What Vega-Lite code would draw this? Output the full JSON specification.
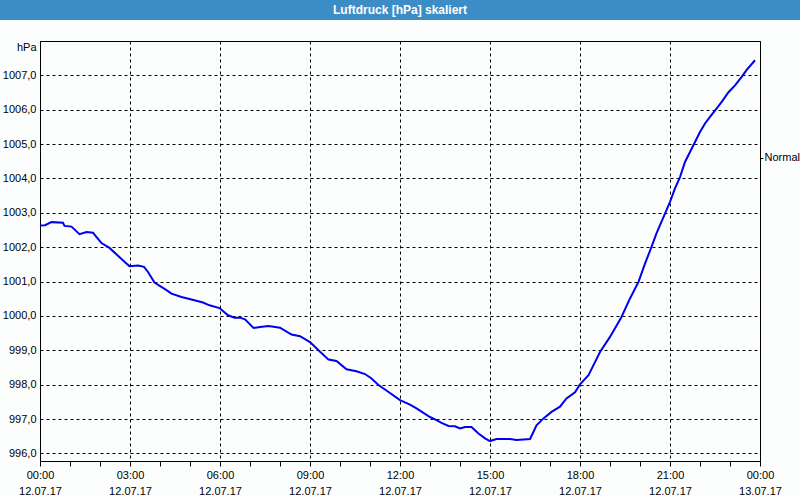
{
  "$schema": "https://vega.github.io/schema/vega-lite/v6.json",
  "background": "#fcfefd",
  "padding": 0,
  "spacing": 21,
  "bounds": "flush",
  "center": true,
  "config": {
    "font": "Liberation Sans",
    "view": {"stroke": null},
    "axis": {"labelFont": "Liberation Sans", "titleFont": "Liberation Sans", "labelFontSize": 11, "titleFontSize": 11, "labelColor": "#000", "titleColor": "#000", "titleFontWeight": "normal"}
  },
  "vconcat": [
    {
      "width": 800,
      "height": 20,
      "data": {"values": [{"title": "Luftdruck [hPa] skaliert"}]},
      "layer": [
        {"mark": {"type": "rect", "color": "#3c8dc5"}},
        {
          "mark": {"type": "text", "color": "#ffffff", "font": "Liberation Sans", "fontSize": 12, "fontWeight": "bold", "align": "center", "baseline": "middle"},
          "encoding": {"text": {"field": "title"}}
        }
      ]
    },
    {
      "width": 720,
      "height": 420,
      "resolve": {"axis": {"y": "independent", "x": "independent"}},
      "layer": [
        {
          "data": {"values": [
            {"t": "2017-07-12T00:00:00Z", "p": 1002.63},
            {"t": "2017-07-12T00:10:00Z", "p": 1002.64},
            {"t": "2017-07-12T00:23:00Z", "p": 1002.73},
            {"t": "2017-07-12T00:46:00Z", "p": 1002.71},
            {"t": "2017-07-12T00:49:00Z", "p": 1002.62},
            {"t": "2017-07-12T01:03:00Z", "p": 1002.60},
            {"t": "2017-07-12T01:19:00Z", "p": 1002.38},
            {"t": "2017-07-12T01:33:00Z", "p": 1002.44},
            {"t": "2017-07-12T01:46:00Z", "p": 1002.42},
            {"t": "2017-07-12T02:03:00Z", "p": 1002.12},
            {"t": "2017-07-12T02:19:00Z", "p": 1001.98},
            {"t": "2017-07-12T02:36:00Z", "p": 1001.75},
            {"t": "2017-07-12T02:51:00Z", "p": 1001.55},
            {"t": "2017-07-12T02:59:00Z", "p": 1001.45},
            {"t": "2017-07-12T03:16:00Z", "p": 1001.47},
            {"t": "2017-07-12T03:28:00Z", "p": 1001.43},
            {"t": "2017-07-12T03:36:00Z", "p": 1001.28},
            {"t": "2017-07-12T03:49:00Z", "p": 1000.97},
            {"t": "2017-07-12T04:13:00Z", "p": 1000.75},
            {"t": "2017-07-12T04:23:00Z", "p": 1000.65},
            {"t": "2017-07-12T04:43:00Z", "p": 1000.55},
            {"t": "2017-07-12T05:03:00Z", "p": 1000.48},
            {"t": "2017-07-12T05:26:00Z", "p": 1000.39},
            {"t": "2017-07-12T05:39:00Z", "p": 1000.31},
            {"t": "2017-07-12T05:59:00Z", "p": 1000.23},
            {"t": "2017-07-12T06:16:00Z", "p": 1000.02},
            {"t": "2017-07-12T06:29:00Z", "p": 999.95},
            {"t": "2017-07-12T06:40:00Z", "p": 999.95},
            {"t": "2017-07-12T06:50:00Z", "p": 999.90},
            {"t": "2017-07-12T07:07:00Z", "p": 999.65},
            {"t": "2017-07-12T07:20:00Z", "p": 999.68},
            {"t": "2017-07-12T07:37:00Z", "p": 999.71},
            {"t": "2017-07-12T08:00:00Z", "p": 999.66},
            {"t": "2017-07-12T08:23:00Z", "p": 999.46},
            {"t": "2017-07-12T08:40:00Z", "p": 999.41},
            {"t": "2017-07-12T09:00:00Z", "p": 999.24},
            {"t": "2017-07-12T09:17:00Z", "p": 999.00},
            {"t": "2017-07-12T09:37:00Z", "p": 998.73},
            {"t": "2017-07-12T09:53:00Z", "p": 998.69},
            {"t": "2017-07-12T10:13:00Z", "p": 998.45},
            {"t": "2017-07-12T10:33:00Z", "p": 998.39},
            {"t": "2017-07-12T10:50:00Z", "p": 998.31},
            {"t": "2017-07-12T11:03:00Z", "p": 998.18},
            {"t": "2017-07-12T11:17:00Z", "p": 997.99},
            {"t": "2017-07-12T11:40:00Z", "p": 997.76},
            {"t": "2017-07-12T12:00:00Z", "p": 997.55},
            {"t": "2017-07-12T12:20:00Z", "p": 997.42},
            {"t": "2017-07-12T12:33:00Z", "p": 997.31},
            {"t": "2017-07-12T13:00:00Z", "p": 997.06},
            {"t": "2017-07-12T13:13:00Z", "p": 996.97},
            {"t": "2017-07-12T13:23:00Z", "p": 996.89},
            {"t": "2017-07-12T13:37:00Z", "p": 996.80},
            {"t": "2017-07-12T13:50:00Z", "p": 996.79},
            {"t": "2017-07-12T14:00:00Z", "p": 996.73},
            {"t": "2017-07-12T14:10:00Z", "p": 996.77},
            {"t": "2017-07-12T14:23:00Z", "p": 996.77},
            {"t": "2017-07-12T14:37:00Z", "p": 996.58},
            {"t": "2017-07-12T14:50:00Z", "p": 996.44},
            {"t": "2017-07-12T15:00:00Z", "p": 996.36},
            {"t": "2017-07-12T15:13:00Z", "p": 996.42},
            {"t": "2017-07-12T15:40:00Z", "p": 996.42},
            {"t": "2017-07-12T15:53:00Z", "p": 996.39},
            {"t": "2017-07-12T16:20:00Z", "p": 996.42},
            {"t": "2017-07-12T16:27:00Z", "p": 996.63},
            {"t": "2017-07-12T16:33:00Z", "p": 996.82},
            {"t": "2017-07-12T16:47:00Z", "p": 997.02},
            {"t": "2017-07-12T17:03:00Z", "p": 997.21},
            {"t": "2017-07-12T17:20:00Z", "p": 997.36},
            {"t": "2017-07-12T17:33:00Z", "p": 997.60},
            {"t": "2017-07-12T17:50:00Z", "p": 997.78},
            {"t": "2017-07-12T18:00:00Z", "p": 998.01},
            {"t": "2017-07-12T18:17:00Z", "p": 998.28},
            {"t": "2017-07-12T18:27:00Z", "p": 998.57},
            {"t": "2017-07-12T18:40:00Z", "p": 998.95},
            {"t": "2017-07-12T19:00:00Z", "p": 999.39},
            {"t": "2017-07-12T19:23:00Z", "p": 999.97},
            {"t": "2017-07-12T19:40:00Z", "p": 1000.51},
            {"t": "2017-07-12T19:57:00Z", "p": 1000.99},
            {"t": "2017-07-12T20:10:00Z", "p": 1001.52},
            {"t": "2017-07-12T20:23:00Z", "p": 1002.01},
            {"t": "2017-07-12T20:33:00Z", "p": 1002.40},
            {"t": "2017-07-12T20:40:00Z", "p": 1002.64},
            {"t": "2017-07-12T20:50:00Z", "p": 1002.98},
            {"t": "2017-07-12T21:00:00Z", "p": 1003.32},
            {"t": "2017-07-12T21:10:00Z", "p": 1003.71},
            {"t": "2017-07-12T21:20:00Z", "p": 1004.04},
            {"t": "2017-07-12T21:30:00Z", "p": 1004.48},
            {"t": "2017-07-12T21:40:00Z", "p": 1004.77},
            {"t": "2017-07-12T21:50:00Z", "p": 1005.06},
            {"t": "2017-07-12T22:00:00Z", "p": 1005.35},
            {"t": "2017-07-12T22:10:00Z", "p": 1005.60},
            {"t": "2017-07-12T22:20:00Z", "p": 1005.79},
            {"t": "2017-07-12T22:33:00Z", "p": 1006.03},
            {"t": "2017-07-12T22:43:00Z", "p": 1006.22},
            {"t": "2017-07-12T22:57:00Z", "p": 1006.51},
            {"t": "2017-07-12T23:10:00Z", "p": 1006.71},
            {"t": "2017-07-12T23:23:00Z", "p": 1006.95},
            {"t": "2017-07-12T23:33:00Z", "p": 1007.15},
            {"t": "2017-07-12T23:50:00Z", "p": 1007.44}
          ]},
          "mark": {"type": "line", "color": "#0000ee", "strokeWidth": 2, "clip": true},
          "encoding": {
            "x": {
              "field": "t",
              "type": "temporal",
              "scale": {"type": "utc", "domain": [1499817600000, 1499904000000], "nice": false},
              "axis": {
                "orient": "bottom",
                "title": null,
                "domain": true,
                "domainColor": "#000",
                "values": [1499817600000, 1499821200000, 1499824800000, 1499828400000, 1499832000000, 1499835600000, 1499839200000, 1499842800000, 1499846400000, 1499850000000, 1499853600000, 1499857200000, 1499860800000, 1499864400000, 1499868000000, 1499871600000, 1499875200000, 1499878800000, 1499882400000, 1499886000000, 1499889600000, 1499893200000, 1499896800000, 1499900400000, 1499904000000],
                "tickSize": 5,
                "tickColor": "#000",
                "labelPadding": 3,
                "labelFlush": false,
                "labelOverlap": false,
                "labelLineHeight": 16,
                "labelExpr": "utchours(datum.value) % 3 === 0 ? [utcFormat(datum.value, '%H:%M'), utcFormat(datum.value, '%d.%m.%y')] : ''",
                "grid": true,
                "gridColor": "#000",
                "gridDash": [3, 3],
                "gridOpacity": {"condition": {"test": "utchours(datum.value) % 3 === 0", "value": 1}, "value": 0}
              }
            },
            "y": {
              "field": "p",
              "type": "quantitative",
              "scale": {"domain": [995.78, 1008.0], "nice": false, "zero": false},
              "axis": {
                "orient": "left",
                "title": "hPa",
                "titleAngle": 0,
                "titleAlign": "right",
                "titleBaseline": "alphabetic",
                "titleX": -4,
                "titleY": 9,
                "domain": true,
                "domainColor": "#000",
                "ticks": false,
                "tickSize": 0,
                "labelPadding": 4,
                "values": [996, 997, 998, 999, 1000, 1001, 1002, 1003, 1004, 1005, 1006, 1007],
                "labelExpr": "replace(format(datum.value, '.1f'), '.', ',')",
                "grid": true,
                "gridColor": "#000",
                "gridDash": [3, 3],
                "gridOpacity": 1
              }
            }
          }
        },
        {
          "data": {"values": [{"name": "Normal", "p": 1004.6, "t": "2017-07-12T12:00:00Z"}]},
          "mark": {"type": "point", "opacity": 0},
          "encoding": {
            "x": {
              "field": "t",
              "type": "temporal",
              "scale": {"type": "utc", "domain": [1499817600000, 1499904000000], "nice": false},
              "axis": {"orient": "top", "title": null, "domain": true, "domainColor": "#000", "ticks": false, "labels": false, "grid": false}
            },
            "y": {
              "field": "p",
              "type": "quantitative",
              "scale": {"domain": [995.78, 1008.0], "nice": false, "zero": false},
              "axis": {
                "orient": "right",
                "title": null,
                "domain": true,
                "domainColor": "#000",
                "grid": false,
                "values": [1004.6],
                "labelExpr": "'Normal'",
                "tickSize": 3,
                "tickColor": "#000",
                "labelPadding": 1
              }
            }
          }
        }
      ]
    }
  ]
}
